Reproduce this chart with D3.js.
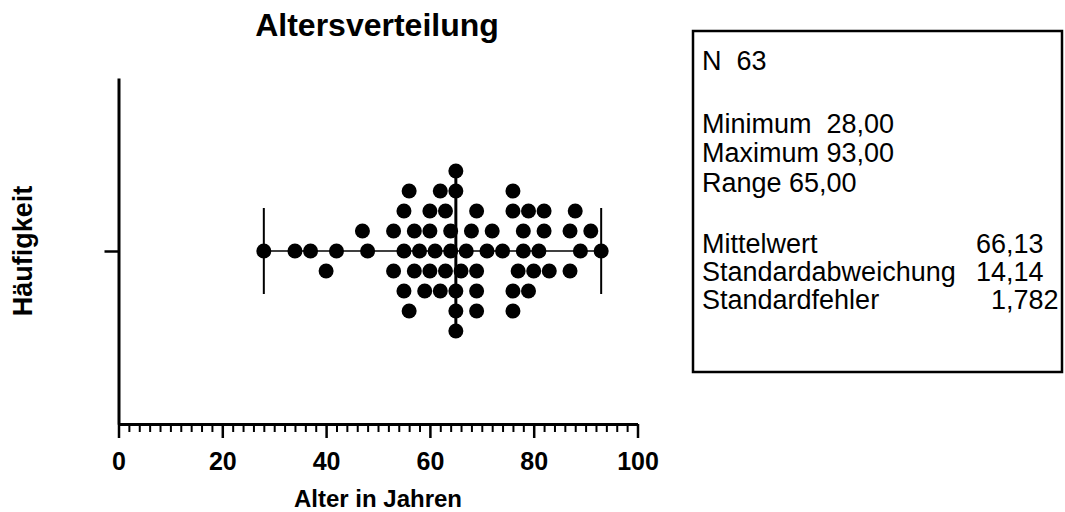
<!DOCTYPE html>
<meta charset="utf-8">
<style>
body { margin: 0; background: #fff; }
svg { font-family: Arial, "Liberation Sans", sans-serif; }
.axis path, .axis line { stroke: #000; }
.axis .domain { stroke-width: 3px; }
.major line { stroke-width: 2.5px; }
.minor line { stroke-width: 2px; }
.axis text { font-size: 25px; font-weight: bold; fill: #000; }
.box text { font-size: 27px; fill: #000; white-space: pre; }
</style>
<svg width="1065" height="512"></svg>
<script src="https://d3js.org/d3.v7.min.js"></script>
<script>
// ages of the 63 patients
var ages = [28, 34, 37, 40, 42, 47, 48, 53, 53, 55, 55, 55, 56, 56, 57, 57,
            58, 59, 60, 60, 60, 61, 62, 62, 63, 63, 64, 64, 65, 65, 65, 65,
            65, 66, 67, 68, 69, 69, 69, 69, 71, 72, 74, 76, 76, 76, 76, 77,
            78, 78, 79, 79, 80, 81, 82, 82, 83, 87, 87, 88, 89, 91, 93];
var groups = ["Alter"];
var majorTicks = [0, 20, 40, 60, 80, 100];
var minorTicks = d3.range(0, 101, 2).filter(function(d) { return d % 20; });

var title = "Altersverteilung",
    xTitle = "Alter in Jahren",
    yTitle = "Häufigkeit";

var svg = d3.select("svg"),
    margin = {top: 78, left: 118.5},
    width = 519,
    height = 346;

var x = d3.scaleLinear().domain([0, 100]).range([margin.left, margin.left + width]);
var y = d3.scalePoint().domain(groups).range([margin.top, margin.top + height]).padding(0.5);
// one lane = one row of dots
var lane = d3.scaleLinear().domain([0, 1]).range([0, -20]);
var r = 7.5;

// german number format
var de = d3.formatLocale({decimal: ",", thousands: ".", grouping: [3], currency: ["", " €"]});
var f2 = de.format(".2f"), f4 = de.format(".4r");

// put every dot in a row so that dots in one row don't touch,
// denser values get the middle rows first
function swarm(values, gap) {
  var dens = values.map(function(v) {
    return values.filter(function(u) { return Math.abs(u - v) < gap; }).length;
  });
  var med = d3.median(values);
  var order = d3.range(values.length).sort(function(a, b) {
    return dens[b] - dens[a] ||
      Math.abs(values[a] - med) - Math.abs(values[b] - med) ||
      values[a] - values[b];
  });
  var rows = {}, out = [];
  function free(k, v) {
    return !(rows[k] || []).some(function(u) { return Math.abs(u - v) < gap; });
  }
  function size(k) { return (rows[k] || []).length; }
  order.forEach(function(i) {
    var v = values[i];
    for (var k = 0; ; k++) {
      var cand = k === 0 ? [0] : (size(k) <= size(-k) ? [k, -k] : [-k, k]);
      var hit = cand.find(function(c) { return free(c, v); });
      if (hit !== undefined) {
        (rows[hit] = rows[hit] || []).push(v);
        out[i] = {value: v, lane: hit};
        return;
      }
    }
  });
  return out;
}

var dots = swarm(ages, 3);
var cy = y(groups[0]);

// title
svg.append("text")
    .attr("x", 377).attr("y", 36)
    .attr("text-anchor", "middle")
    .style("font-size", "32px").style("font-weight", "bold")
    .text(title);

// x axis, major and minor ticks
svg.append("g")
    .attr("class", "axis minor")
    .attr("transform", "translate(0," + (margin.top + height) + ")")
    .call(d3.axisBottom(x).tickValues(minorTicks).tickSize(8).tickSizeOuter(0).tickFormat(""))
  .select(".domain").remove();

svg.append("g")
    .attr("class", "axis major")
    .attr("transform", "translate(0," + (margin.top + height) + ")")
    .call(d3.axisBottom(x).tickValues(majorTicks).tickSize(14).tickSizeOuter(0).tickPadding(14));

// y axis with the single group
svg.append("g")
    .attr("class", "axis major")
    .attr("transform", "translate(" + margin.left + ",0)")
    .call(d3.axisLeft(y).tickSize(14).tickSizeOuter(0).tickFormat(""));

svg.append("text")
    .attr("x", x(50)).attr("y", 507)
    .attr("text-anchor", "middle")
    .style("font-size", "24px").style("font-weight", "bold")
    .text(xTitle);

svg.append("text")
    .attr("transform", "translate(32," + cy + ") rotate(-90)")
    .attr("text-anchor", "middle")
    .style("font-size", "27px").style("font-weight", "bold")
    .text(yTitle);

// range line with whiskers at min and max
var lo = d3.min(ages), hi = d3.max(ages), med = d3.median(ages);
svg.append("line")
    .attr("x1", x(lo)).attr("x2", x(hi))
    .attr("y1", cy).attr("y2", cy)
    .attr("stroke", "#000").attr("stroke-width", 1.6);

svg.selectAll(".whisker")
    .data([lo, hi])
  .enter().append("line")
    .attr("class", "whisker")
    .attr("x1", x).attr("x2", x)
    .attr("y1", cy - 43).attr("y2", cy + 43)
    .attr("stroke", "#000").attr("stroke-width", 2);

// dots
svg.append("g")
  .selectAll("circle")
    .data(dots)
  .enter().append("circle")
    .attr("cx", function(d) { return x(d.value); })
    .attr("cy", function(d) { return cy + lane(d.lane); })
    .attr("r", r)
    .attr("fill", "#000");

// median
svg.append("line")
    .attr("x1", x(med)).attr("x2", x(med))
    .attr("y1", cy - 86).attr("y2", cy + 86)
    .attr("stroke", "#000").attr("stroke-width", 3);

// statistics box
var n = ages.length,
    mean = d3.mean(ages),
    sd = d3.deviation(ages),
    sem = sd / Math.sqrt(n);

var box = svg.append("g").attr("class", "box");
box.append("rect")
    .attr("x", 693).attr("y", 31)
    .attr("width", 369).attr("height", 341)
    .attr("fill", "none").attr("stroke", "#000").attr("stroke-width", 2.5);

var topLines = [
  {text: "N  " + n, y: 70},
  {text: "Minimum  " + f2(lo), y: 133},
  {text: "Maximum " + f2(hi), y: 162},
  {text: "Range " + f2(hi - lo), y: 192}
];
box.selectAll(".top")
    .data(topLines)
  .enter().append("text")
    .attr("class", "top")
    .attr("x", 702).attr("y", function(d) { return d.y; })
    .text(function(d) { return d.text; });

var lowLines = [
  {label: "Mittelwert", value: f4(mean), y: 253},
  {label: "Standardabweichung", value: f4(sd), y: 281},
  {label: "Standardfehler", value: f4(sem), y: 309}
];
var low = box.selectAll(".low")
    .data(lowLines)
  .enter().append("g")
    .attr("class", "low");
low.append("text")
    .attr("x", 702).attr("y", function(d) { return d.y; })
    .text(function(d) { return d.label; });
// numbers lined up on the comma
low.append("text")
    .attr("x", 1006).attr("y", function(d) { return d.y; })
    .attr("text-anchor", "end")
    .text(function(d) { return d.value.split(",")[0]; });
low.append("text")
    .attr("x", 1006).attr("y", function(d) { return d.y; })
    .text(function(d) { return "," + d.value.split(",")[1]; });
</script>
